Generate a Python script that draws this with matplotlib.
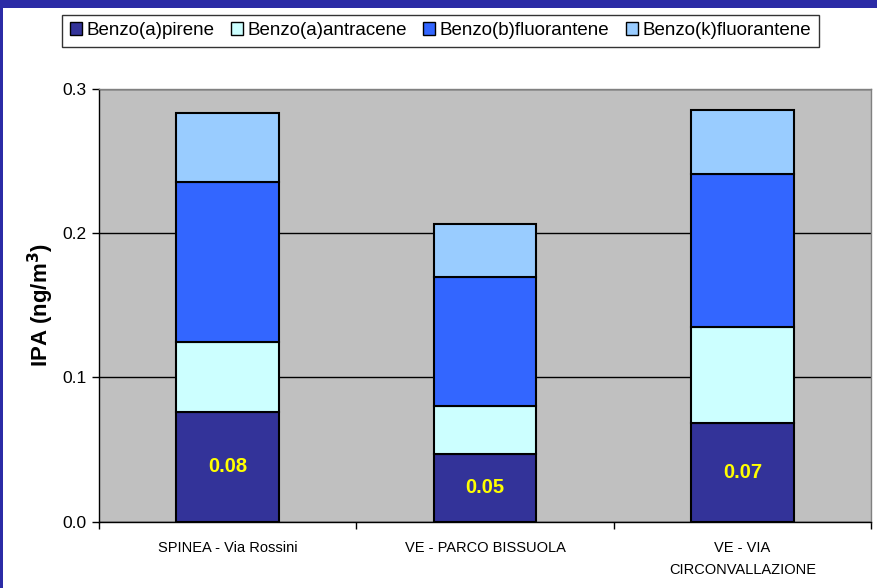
import matplotlib
matplotlib.use("Agg")
import matplotlib.pyplot as plt
from matplotlib import font_manager as fm
from matplotlib.patches import Rectangle
import numpy as np

# Data (ng/m3)
sites = ["SPINEA - Via Rossini", "VE - PARCO BISSUOLA", "VE - VIA\nCIRCONVALLAZIONE"]
series_names = ["Benzo(a)pirene", "Benzo(a)antracene", "Benzo(b)fluorantene", "Benzo(k)fluorantene"]
benzo_a_pirene = [0.076, 0.047, 0.068]
benzo_a_antracene = [0.0485, 0.033, 0.0668]
benzo_b_fluorantene = [0.1107, 0.0893, 0.1063]
benzo_k_fluorantene = [0.0481, 0.0366, 0.0444]
y_ticks = [0.0, 0.1, 0.2, 0.3]
y_tick_labels = ["0.0", "0.1", "0.2", "0.3"]

colors = ["#333399", "#CCFFFF", "#3366FF", "#99CCFF"]

available = {f.name for f in fm.fontManager.ttflist}
base_font = "Liberation Sans" if "Liberation Sans" in available else "DejaVu Sans"
plt.rcParams["font.family"] = [base_font, "DejaVu Sans"]

fig = plt.figure(figsize=(8.78, 5.88), dpi=100)
fig.patch.set_facecolor("white")

# slide frame
fig.patches.append(Rectangle((0, 1 - 8 / 588), 1, 8 / 588, transform=fig.transFigure,
                             facecolor="#2B2BA6", edgecolor="none", zorder=0))
fig.patches.append(Rectangle((0, 0), 3 / 878, 1, transform=fig.transFigure,
                             facecolor="#2B2BA6", edgecolor="none", zorder=0))

ax = fig.add_axes([99 / 878, 1 - 521.5 / 588, 772 / 878, (521.5 - 88.7) / 588])
ax.set_facecolor("#C0C0C0")

x = np.arange(len(sites))
width = 0.4
stack = [benzo_a_pirene, benzo_a_antracene, benzo_b_fluorantene, benzo_k_fluorantene]
bottom = np.zeros(len(sites))
for vals, name, col in zip(stack, series_names, colors):
    ax.bar(x, vals, width, bottom=bottom, color=col, edgecolor="black",
           linewidth=1.5, label=name, zorder=3)
    bottom += np.array(vals)

for xi, v in zip(x, benzo_a_pirene):
    ax.text(xi, v / 2, f"{v:.2f}", ha="center", va="center", color="#FFFF00",
            fontsize=14.5, fontweight="bold", zorder=4)

ax.set_xlim(-0.5, 2.5)
ax.set_ylim(0, 0.3)
ax.set_yticks(y_ticks)
ax.set_yticklabels(y_tick_labels)
ax.yaxis.grid(True, color="black", linewidth=1.0, zorder=1)
ax.set_axisbelow(True)

ax.set_xticks([-0.5, 0.5, 1.5, 2.5])
ax.set_xticklabels([])
ax.set_xticks(x, minor=True)
ax.set_xticklabels(sites, minor=True, fontsize=10.5, linespacing=1.7)
ax.tick_params(axis="x", which="minor", length=0, pad=14)
ax.tick_params(axis="x", which="major", length=5, width=1, direction="out")
ax.tick_params(axis="y", length=5, width=1, direction="out", labelsize=12.5, pad=4)

for side in ["top", "right"]:
    ax.spines[side].set_color("#808080")
    ax.spines[side].set_linewidth(1.0)
for side in ["left", "bottom"]:
    ax.spines[side].set_color("black")
    ax.spines[side].set_linewidth(1.0)

ax.set_ylabel("IPA (ng/m$^\\mathbf{3}$)", fontsize=16, fontweight="bold")
ax.yaxis.set_label_coords(-0.056, 0.5)

leg = fig.legend(loc="center", bbox_to_anchor=(440.5 / 878, 1 - 30.5 / 588), ncol=4,
                 fontsize=13.5, frameon=True, fancybox=False, shadow=False,
                 handlelength=0.65, handleheight=0.65, handletextpad=0.25,
                 columnspacing=0.85, borderpad=0.4, borderaxespad=0)
leg.get_frame().set_edgecolor("black")
leg.get_frame().set_linewidth(1.0)
for h in leg.legend_handles:
    h.set_linewidth(1.0)

fig.savefig("out.png", dpi=100, facecolor=fig.get_facecolor())
